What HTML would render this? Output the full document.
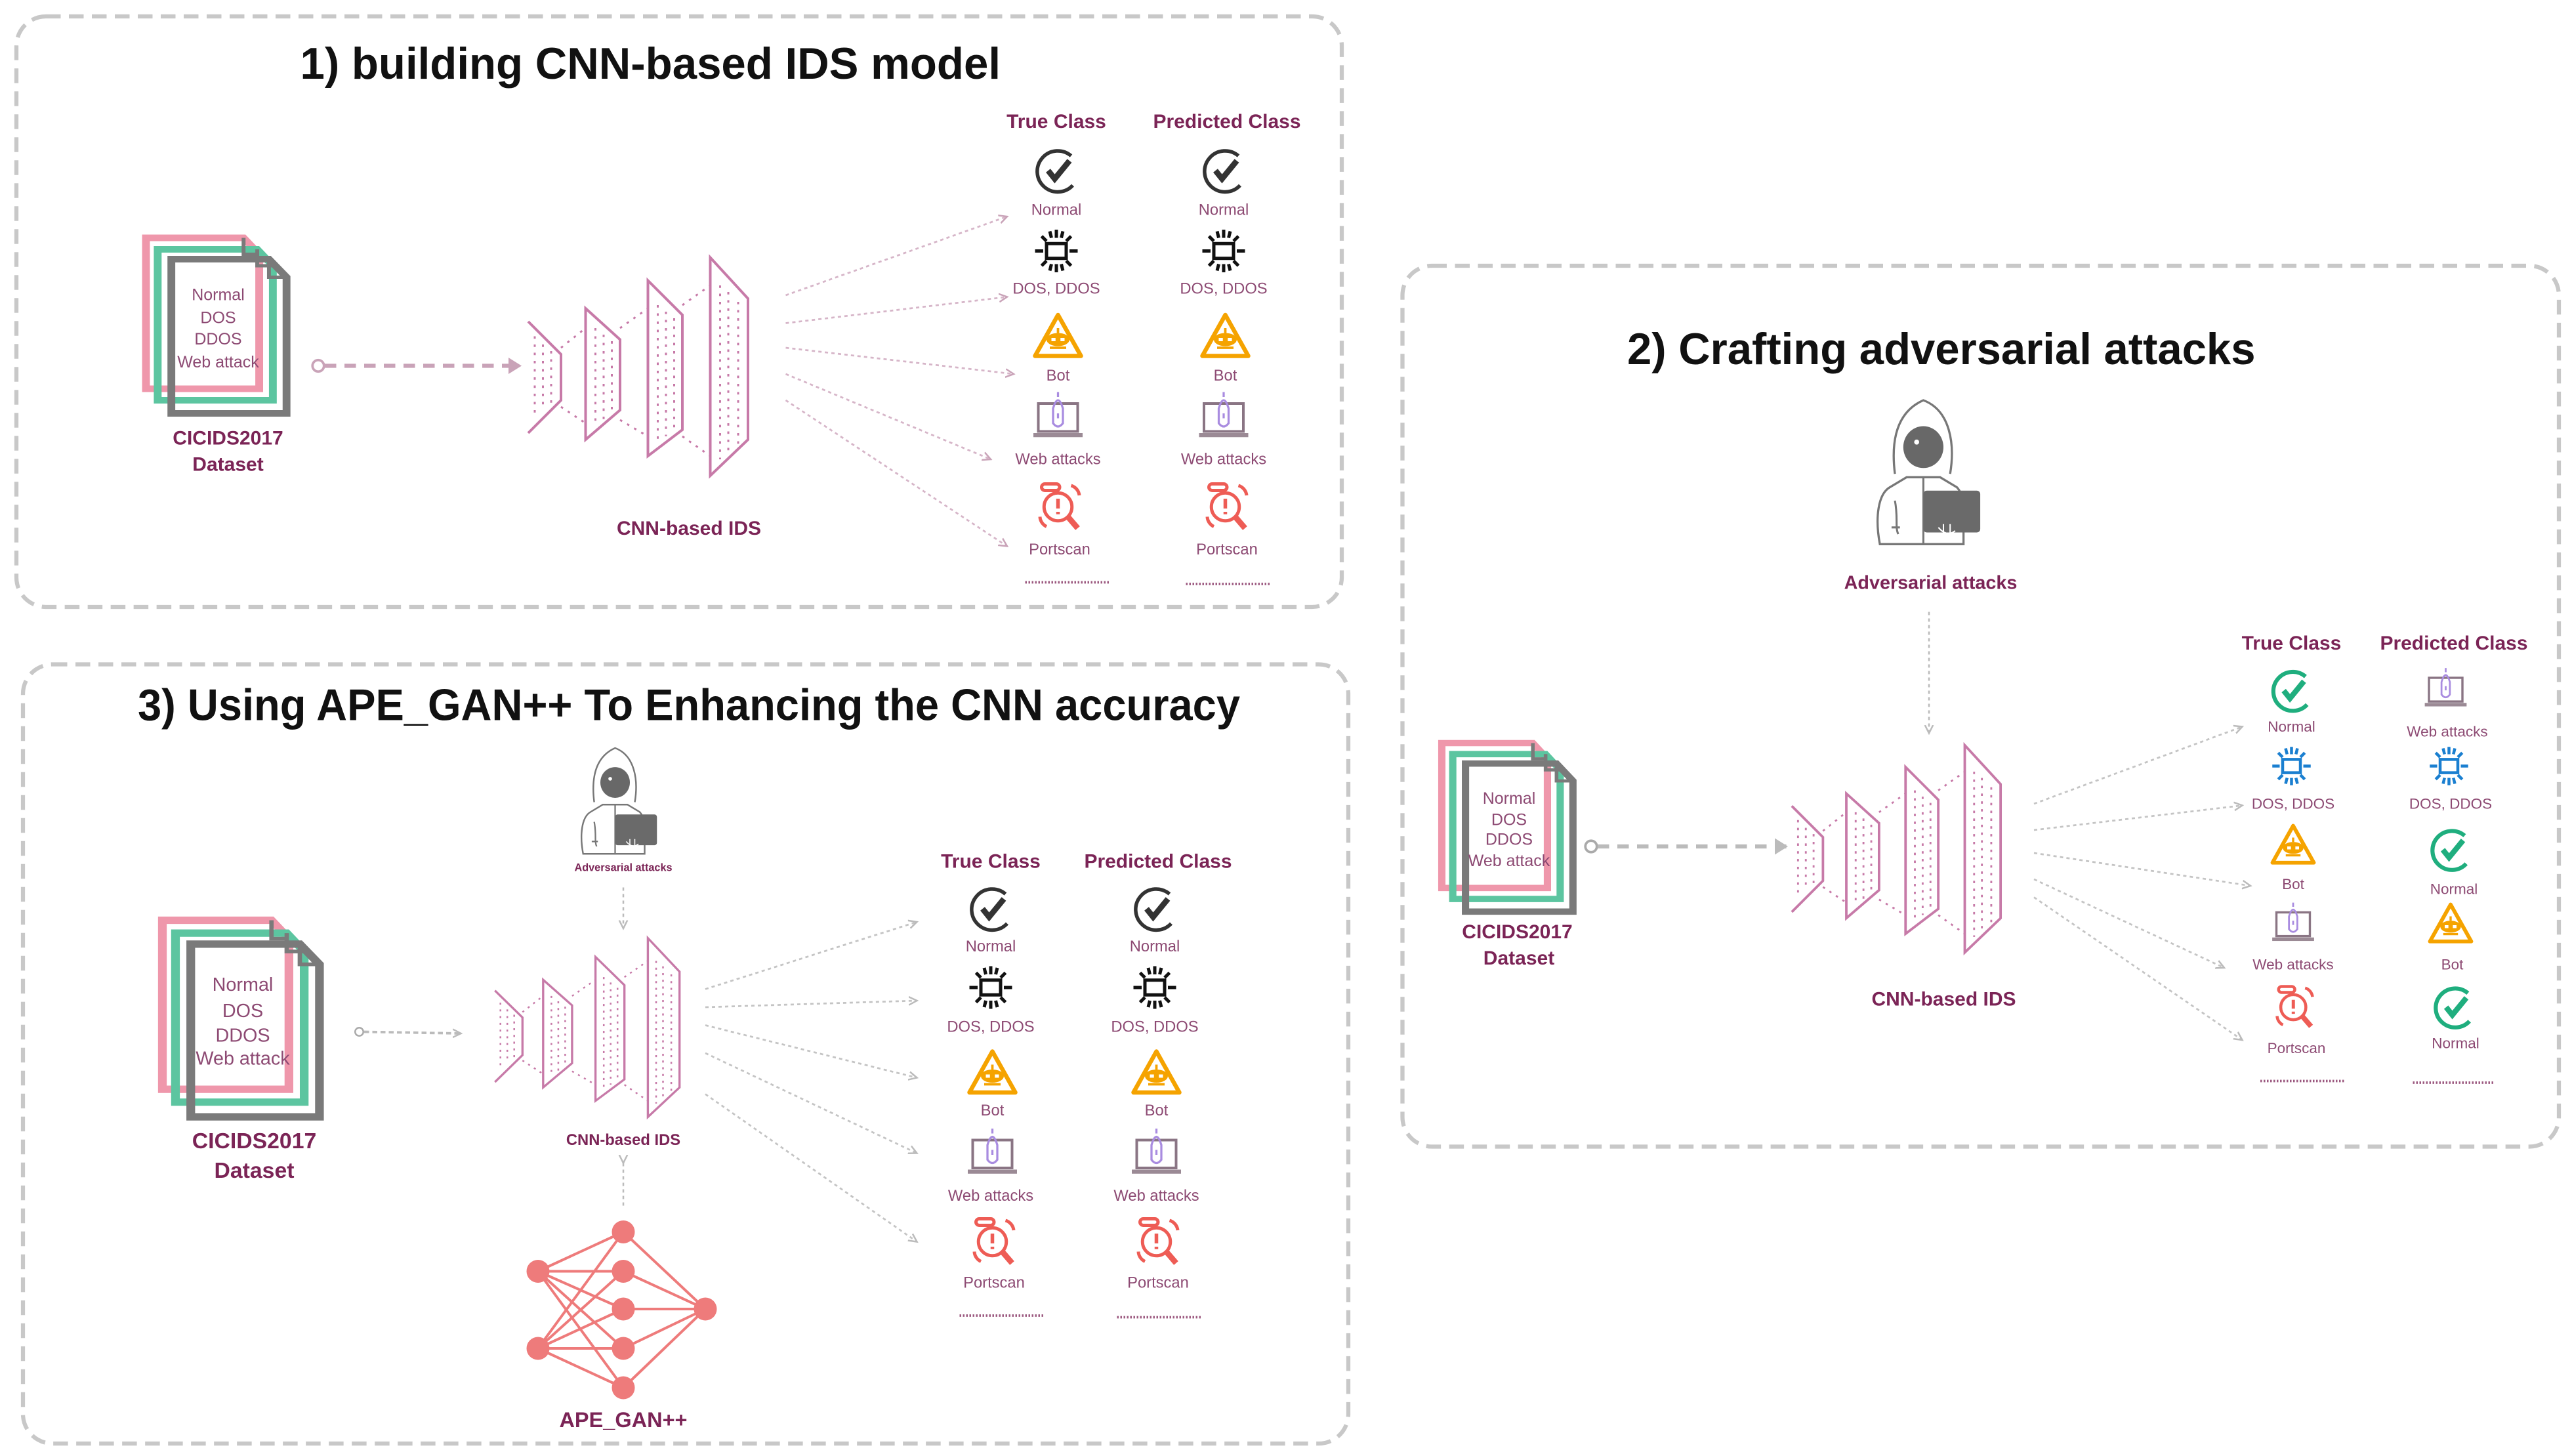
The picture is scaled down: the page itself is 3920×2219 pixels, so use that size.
<!DOCTYPE html>
<html><head><meta charset="utf-8"><style>
html,body{margin:0;padding:0;background:#fff;}
svg{display:block;}
text{font-family:"Liberation Sans Narrow","Liberation Sans",sans-serif;}
.t{font-weight:bold;fill:#111;}
.m{fill:#7b2456;font-weight:bold;}
.c{fill:#8d4a73;}
</style></head><body>
<svg width="3920" height="2219" viewBox="0 0 1568 887.6" xmlns="http://www.w3.org/2000/svg">
<defs>
<marker id="ah" markerWidth="6" markerHeight="6" refX="5" refY="3" orient="auto" markerUnits="userSpaceOnUse"><path d="M0,0.5 L5,3 L0,5.5" fill="none" stroke="#c9a3b8" stroke-width="1"/></marker>
<marker id="ah2" markerWidth="10" markerHeight="10" refX="8" refY="5" orient="auto" markerUnits="userSpaceOnUse"><path d="M0,0 L8,5 L0,10Z" fill="#c9a3b8"/></marker>
<marker id="ahg" markerWidth="6" markerHeight="6" refX="5" refY="3" orient="auto" markerUnits="userSpaceOnUse"><path d="M0,0.5 L5,3 L0,5.5" fill="none" stroke="#bbb" stroke-width="1"/></marker>
<marker id="ahg2" markerWidth="10" markerHeight="10" refX="8" refY="5" orient="auto" markerUnits="userSpaceOnUse"><path d="M0,0 L8,5 L0,10Z" fill="#bbb"/></marker>

<g id="doc">
 <path d="M0,0 H50 L58,10 V92 H0Z" fill="none" stroke="#ef97ab" stroke-width="4"/>
 <path d="M6,7 H57 L65,17 V99 H6Z" fill="none" stroke="#5cc5a0" stroke-width="4"/>
 <path d="M13,13 H63 L72,24 V107 H13Z" fill="none" stroke="#7a7a7a" stroke-width="4"/>
 <path d="M50,0 V10 H58 M57,7 V17 H65 M63,13 V24 H72" fill="none" stroke="#7a7a7a" stroke-width="2"/>
</g>

<g id="cnn" fill="none" stroke="#c77aa8" stroke-width="1.6">
 <path d="M322,196 L342,216 V244 L322,264"/>
 <path d="M357,188 L378,207 V250 L357,268Z"/>
 <path d="M395,171 L416,192 V262 L395,278Z"/>
 <path d="M433,157 L456,182 V268 L433,290Z"/>
 <g stroke-dasharray="1.5 3.5" stroke-width="1.2">
  <path d="M326,205 V254 M331,210 V250 M336,214 V246"/>
  <path d="M363,200 V258 M368,204 V256 M373,208 V252"/>
  <path d="M401,186 V268 M406,190 V266 M411,194 V262"/>
  <path d="M439,174 V280 M444,178 V278 M450,184 V272"/>
  <path d="M342,212 L357,200 M378,200 L395,188 M416,186 L433,174 M342,248 L357,258 M378,256 L395,266 M416,266 L433,278"/>
 </g>
</g>

<g id="chk" fill="none">
 <path d="M9,-9 A12.5,12.5 0 1 0 10,9" stroke="#333" stroke-width="2.2"/>
 <path d="M-5,0 L-1,5 L8,-6" stroke="#333" stroke-width="3.5"/>
</g>
<g id="chkg" fill="none">
 <path d="M9,-9 A12.5,12.5 0 1 0 10,9" stroke="#1fae7e" stroke-width="2.6"/>
 <path d="M-5,0 L-1,5 L8,-6" stroke="#1fae7e" stroke-width="3.5"/>
</g>
<g id="dos" fill="none" stroke="#111" stroke-width="2">
 <rect x="-6" y="-4.5" width="12" height="9"/>
 <path d="M-13,0 H-8 M8,0 H13 M0,-13 V-8 M0,8 V13 M-9,-9 L-6,-6 M9,-9 L6,-6 M-9,9 L-6,6 M9,9 L6,6 M-4,-12 L-3,-8 M4,-12 L3,-8 M-4,12 L-3,8 M4,12 L3,8"/>
</g>
<g id="dosb" fill="none" stroke="#1a7fd0" stroke-width="2">
 <rect x="-6" y="-4.5" width="12" height="9"/>
 <path d="M-13,0 H-8 M8,0 H13 M0,-13 V-8 M0,8 V13 M-9,-9 L-6,-6 M9,-9 L6,-6 M-9,9 L-6,6 M9,9 L6,6 M-4,-12 L-3,-8 M4,-12 L3,-8 M-4,12 L-3,8 M4,12 L3,8"/>
</g>
<g id="bot">
 <path d="M0,-14 L14,11 H-14Z" fill="none" stroke="#f5a300" stroke-width="2.6" stroke-linejoin="round"/>
 <ellipse cx="0" cy="1" rx="7" ry="4" fill="#f5a300"/>
 <rect x="-4" y="0" width="2.5" height="2" fill="#fff"/><rect x="1.5" y="0" width="2.5" height="2" fill="#fff"/>
 <path d="M-5,6 H5 M0,-3 V-6" stroke="#f5a300" stroke-width="1.5"/>
</g>
<g id="web">
 <rect x="-12" y="-8" width="24" height="17" fill="none" stroke="#8a7584" stroke-width="1.6"/>
 <rect x="-15" y="10" width="30" height="2.5" fill="#9b8a95"/>
 <path d="M-3,-5 Q0,-15 3,-5 V4 Q0,8 -3,4Z M0,-15 V-12" fill="none" stroke="#a98ce0" stroke-width="1.3"/>
 <path d="M0,-2 V1" stroke="#a98ce0" stroke-width="1.3"/>
</g>
<g id="port" fill="none" stroke="#ee5c55" stroke-width="2">
 <circle cx="-1" cy="0" r="8.5"/>
 <path d="M5,6 L11,13" stroke-width="3.5"/>
 <rect x="-11" y="-14" width="11" height="4" rx="2"/>
 <path d="M-1,-5 V1 M-1,3 V4.5" stroke-width="2.2"/>
 <path d="M7,-13 A7,7 0 0 1 12,-7 M-12,6 A7,7 0 0 0 -8,12"/>
</g>

<g id="hk">
 <path d="M11,44 C9,28 10,8 28,0 C44,6 47,26 44,44" fill="#fff" stroke="#777" stroke-width="1.3"/>
 <path d="M2,86 C-1,70 1,56 8,52 L18,46 H38 L48,52 C52,56 52,64 52,70 L52,86Z" fill="#fff" stroke="#777" stroke-width="1.3"/>
 <path d="M28,46 V86 M9,76 H14 M11,60 C13,70 11,76 13,80" fill="none" stroke="#777" stroke-width="1.2"/>
 <ellipse cx="28" cy="28" rx="12" ry="12.5" fill="#686868"/>
 <circle cx="24" cy="25" r="1.5" fill="#fff"/>
 <rect x="28" y="54" width="34" height="25" rx="2" fill="#6a6a6a"/>
 <path d="M37,76 q5,6 10,2 M40,74 v6 M44,74 v6" fill="none" stroke="#fff" stroke-width="0.8"/>
</g>
</defs>

<g fill="none" stroke="#c8c8c8" stroke-width="2.5" stroke-dasharray="9 5">
 <rect x="10" y="10" width="808" height="360" rx="18"/>
 <rect x="855" y="162" width="705" height="537" rx="18"/>
 <rect x="14" y="405" width="808" height="475" rx="18"/>
</g>

<!-- ===== Panel 1 ===== -->
<text class="t" x="183" y="48" font-size="27" textLength="427" lengthAdjust="spacingAndGlyphs">1) building CNN-based IDS model</text>
<use href="#doc" transform="translate(89 145) scale(1.19 1.0)"/>
<g class="c" font-size="10" text-anchor="middle">
 <text x="133" y="183">Normal</text><text x="133" y="197">DOS</text><text x="133" y="210">DDOS</text><text x="133" y="224">Web attack</text>
</g>
<text class="m" x="139" y="271" font-size="12" text-anchor="middle">CICIDS2017</text>
<text class="m" x="139" y="287" font-size="12" text-anchor="middle">Dataset</text>
<circle cx="194" cy="223" r="3.5" fill="#fff" stroke="#c9a3b8" stroke-width="1.5"/>
<line x1="198" y1="223" x2="318" y2="223" stroke="#c9a3b8" stroke-width="2.5" stroke-dasharray="7 5" marker-end="url(#ah2)"/>
<use href="#cnn"/>
<text class="m" x="420" y="326" font-size="12" text-anchor="middle">CNN-based IDS</text>
<g stroke="#d6b5c8" stroke-width="1.1" stroke-dasharray="2 2" marker-end="url(#ah)">
 <line x1="479" y1="180" x2="614" y2="132"/>
 <line x1="479" y1="197" x2="614" y2="181"/>
 <line x1="479" y1="212" x2="618" y2="228"/>
 <line x1="479" y1="228" x2="604" y2="280"/>
 <line x1="479" y1="244" x2="614" y2="333"/>
</g>
<g font-size="12" class="m" text-anchor="middle"><text x="644" y="78">True Class</text><text x="748" y="78">Predicted Class</text></g>
<g class="c" font-size="9.5" text-anchor="middle">
 <text x="644" y="131">Normal</text><text x="746" y="131">Normal</text>
 <text x="644" y="179">DOS, DDOS</text><text x="746" y="179">DOS, DDOS</text>
 <text x="645" y="232">Bot</text><text x="747" y="232">Bot</text>
 <text x="645" y="283">Web attacks</text><text x="746" y="283">Web attacks</text>
 <text x="646" y="338">Portscan</text><text x="748" y="338">Portscan</text>
</g>
<use href="#chk" transform="translate(644 104)"/><use href="#chk" transform="translate(746 104)"/>
<use href="#dos" transform="translate(644 153)"/><use href="#dos" transform="translate(746 153)"/>
<use href="#bot" transform="translate(645 206)"/><use href="#bot" transform="translate(747 206)"/>
<use href="#web" transform="translate(645 254)"/><use href="#web" transform="translate(746 254)"/>
<use href="#port" transform="translate(646 309)"/><use href="#port" transform="translate(748 309)"/>
<g stroke="#9c5a80" stroke-width="1.5" stroke-dasharray="1 1"><line x1="625" y1="355" x2="677" y2="355"/><line x1="723" y1="356" x2="774" y2="356"/></g>

<!-- ===== Panel 2 ===== -->
<text class="t" x="992" y="222" font-size="27" textLength="383" lengthAdjust="spacingAndGlyphs">2) Crafting adversarial attacks</text>
<use href="#hk" transform="translate(1144 244) scale(1.02)"/>
<text class="m" x="1177" y="359" font-size="11.5" text-anchor="middle">Adversarial attacks</text>
<line x1="1176" y1="373" x2="1176" y2="447" stroke="#bbb" stroke-width="1" stroke-dasharray="2 2" marker-end="url(#ahg)"/>
<use href="#doc" transform="translate(879 453) scale(1.11 0.96)"/>
<g class="c" font-size="10" text-anchor="middle">
 <text x="920" y="490">Normal</text><text x="920" y="503">DOS</text><text x="920" y="515">DDOS</text><text x="920" y="528">Web attack</text>
</g>
<text class="m" x="925" y="572" font-size="12" text-anchor="middle">CICIDS2017</text>
<text class="m" x="926" y="588" font-size="12" text-anchor="middle">Dataset</text>
<circle cx="970" cy="516" r="3.5" fill="#fff" stroke="#aaa" stroke-width="1.5"/>
<line x1="974" y1="516" x2="1090" y2="516" stroke="#bbb" stroke-width="2.5" stroke-dasharray="7 5" marker-end="url(#ahg2)"/>
<use href="#cnn" transform="translate(1156 517) scale(0.95) translate(-389 -223)"/>
<text class="m" x="1185" y="613" font-size="12" text-anchor="middle">CNN-based IDS</text>
<g stroke="#c4c4c4" stroke-width="1.1" stroke-dasharray="2 2" marker-end="url(#ahg)">
 <line x1="1240" y1="490" x2="1367" y2="443"/>
 <line x1="1240" y1="506" x2="1367" y2="491"/>
 <line x1="1240" y1="520" x2="1372" y2="540"/>
 <line x1="1240" y1="536" x2="1356" y2="590"/>
 <line x1="1240" y1="547" x2="1367" y2="634"/>
</g>
<g font-size="12" class="m" text-anchor="middle"><text x="1397" y="396">True Class</text><text x="1496" y="396">Predicted Class</text></g>
<g class="c" font-size="9" text-anchor="middle">
 <text x="1397" y="446">Normal</text><text x="1398" y="493">DOS, DDOS</text><text x="1398" y="542">Bot</text><text x="1398" y="591">Web attacks</text><text x="1400" y="642">Portscan</text>
 <text x="1492" y="449">Web attacks</text><text x="1494" y="493">DOS, DDOS</text><text x="1496" y="545">Normal</text><text x="1495" y="591">Bot</text><text x="1497" y="639">Normal</text>
</g>
<use href="#chkg" transform="translate(1397 421) scale(0.95)"/>
<use href="#dosb" transform="translate(1397 467) scale(0.9)"/>
<use href="#bot" transform="translate(1398 516) scale(0.9)"/>
<use href="#web" transform="translate(1398 563) scale(0.85)"/>
<use href="#port" transform="translate(1399 614) scale(0.9)"/>
<use href="#web" transform="translate(1491 420) scale(0.85)"/>
<use href="#dosb" transform="translate(1493 467) scale(0.9)"/>
<use href="#chkg" transform="translate(1494 518) scale(0.95)"/>
<use href="#bot" transform="translate(1494 564) scale(0.9)"/>
<use href="#chkg" transform="translate(1496 614) scale(0.95)"/>
<g stroke="#9c5a80" stroke-width="1.5" stroke-dasharray="1 1"><line x1="1378" y1="659" x2="1429" y2="659"/><line x1="1471" y1="660" x2="1521" y2="660"/></g>

<!-- ===== Panel 3 ===== -->
<text class="t" x="84" y="439" font-size="27" textLength="672" lengthAdjust="spacingAndGlyphs">3) Using APE_GAN++ To Enhancing the CNN accuracy</text>
<use href="#hk" transform="translate(354 456) scale(0.75)"/>
<text class="m" x="380" y="531" font-size="6.5" text-anchor="middle">Adversarial attacks</text>
<line x1="380" y1="541" x2="380" y2="566" stroke="#bbb" stroke-width="1" stroke-dasharray="2 2" marker-end="url(#ahg)"/>
<use href="#doc" transform="translate(99 561) scale(1.33 1.12)"/>
<g class="c" font-size="11.5" text-anchor="middle">
 <text x="148" y="604">Normal</text><text x="148" y="620">DOS</text><text x="148" y="635">DDOS</text><text x="148" y="649">Web attack</text>
</g>
<text class="m" x="155" y="700" font-size="13.5" text-anchor="middle">CICIDS2017</text>
<text class="m" x="155" y="718" font-size="13.5" text-anchor="middle">Dataset</text>
<circle cx="219" cy="629" r="2.5" fill="#fff" stroke="#aaa" stroke-width="1"/>
<line x1="222" y1="629" x2="281" y2="630" stroke="#bbb" stroke-width="1.5" stroke-dasharray="3 2" marker-end="url(#ahg)"/>
<use href="#cnn" transform="translate(358 626) scale(0.84 0.82) translate(-389 -223)"/>
<text class="m" x="380" y="698" font-size="9.5" text-anchor="middle">CNN-based IDS</text>
<line x1="380" y1="709" x2="380" y2="735" stroke="#bbb" stroke-width="1" stroke-dasharray="2 2" marker-start="url(#ahg)"/>
<g stroke="#ee7b7b" stroke-width="1.6">
 <path d="M328,775 L380,751 M328,775 L380,775 M328,775 L380,798 M328,775 L380,822 M328,775 L380,846 M328,822 L380,751 M328,822 L380,775 M328,822 L380,798 M328,822 L380,822 M328,822 L380,846 M430,798 L380,751 M430,798 L380,775 M430,798 L380,798 M430,798 L380,822 M430,798 L380,846"/>
</g>
<g fill="#ee7b7b">
 <circle cx="328" cy="775" r="7"/><circle cx="328" cy="822" r="7"/>
 <circle cx="380" cy="751" r="7"/><circle cx="380" cy="775" r="7"/><circle cx="380" cy="798" r="7"/><circle cx="380" cy="822" r="7"/><circle cx="380" cy="846" r="7"/>
 <circle cx="430" cy="798" r="7"/>
</g>
<text class="m" x="380" y="870" font-size="13" text-anchor="middle">APE_GAN++</text>
<g stroke="#c4c4c4" stroke-width="1.1" stroke-dasharray="2 2" marker-end="url(#ahg)">
 <line x1="430" y1="603" x2="559" y2="562"/>
 <line x1="430" y1="614" x2="559" y2="610"/>
 <line x1="430" y1="625" x2="559" y2="657"/>
 <line x1="430" y1="642" x2="559" y2="703"/>
 <line x1="430" y1="667" x2="559" y2="757"/>
</g>
<g font-size="12" class="m" text-anchor="middle"><text x="604" y="529">True Class</text><text x="706" y="529">Predicted Class</text></g>
<g class="c" font-size="9.5" text-anchor="middle">
 <text x="604" y="580">Normal</text><text x="704" y="580">Normal</text>
 <text x="604" y="629">DOS, DDOS</text><text x="704" y="629">DOS, DDOS</text>
 <text x="605" y="680">Bot</text><text x="705" y="680">Bot</text>
 <text x="604" y="732">Web attacks</text><text x="705" y="732">Web attacks</text>
 <text x="606" y="785">Portscan</text><text x="706" y="785">Portscan</text>
</g>
<use href="#chk" transform="translate(604 554)"/><use href="#chk" transform="translate(704 554)"/>
<use href="#dos" transform="translate(604 602)"/><use href="#dos" transform="translate(704 602)"/>
<use href="#bot" transform="translate(605 655)"/><use href="#bot" transform="translate(705 655)"/>
<use href="#web" transform="translate(605 703)"/><use href="#web" transform="translate(705 703)"/>
<use href="#port" transform="translate(606 757)"/><use href="#port" transform="translate(706 757)"/>
<g stroke="#9c5a80" stroke-width="1.5" stroke-dasharray="1 1"><line x1="585" y1="802" x2="636" y2="802"/><line x1="681" y1="803" x2="732" y2="803"/></g>
</svg>
</body></html>
